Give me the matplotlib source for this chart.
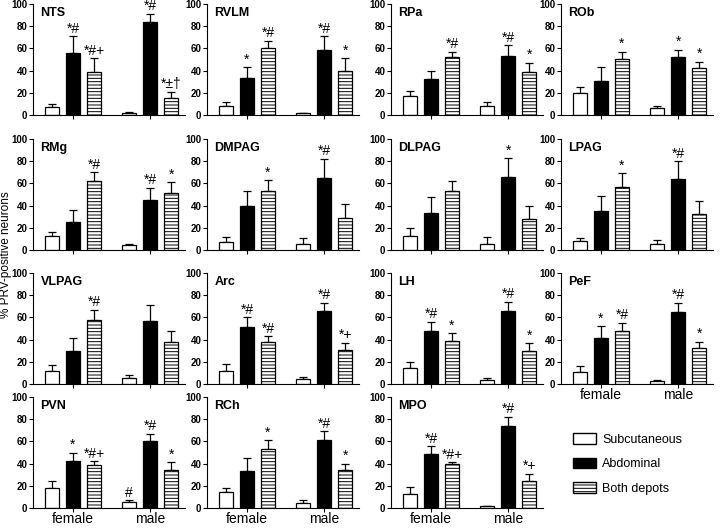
import numpy as np
import matplotlib
matplotlib.use("Agg")
import matplotlib.pyplot as plt
from matplotlib.patches import Patch

plt.rcParams["font.family"] = ["Liberation Sans", "DejaVu Sans"]
plt.rcParams["hatch.linewidth"] = 0.7

# regions, one panel each
regions = ["NTS", "RVLM", "RPa", "ROb", "RMg", "DMPAG", "DLPAG", "LPAG",
           "VLPAG", "Arc", "LH", "PeF", "PVN", "RCh", "MPO"]

# female means / SEM (% PRV-positive neurons)
sub_f = [7, 8, 17, 20, 13, 7, 13, 8, 12, 12, 14, 11, 18, 14, 13]
sub_f_err = [3, 4, 4.5, 5, 3, 5, 7, 3, 5, 6, 6, 5, 6.5, 4, 5.5]
abd_f = [56, 33, 32, 31, 25, 40, 33, 35, 30, 51, 48, 41, 42, 33, 49]
abd_f_err = [15, 10, 8, 12, 11, 13, 15, 14, 11, 9, 8, 11, 8, 12, 6.5]
both_f = [39, 60, 52, 50, 62, 53, 53, 57, 58, 38, 39, 48, 39, 53, 39.5]
both_f_err = [12, 7, 5, 7, 8, 10, 9, 12, 9, 5, 7, 7, 3, 8, 1.5]

# male means / SEM
sub_m = [2, 1.5, 8, 6.5, 4.5, 5.5, 5.5, 5, 5, 4.5, 4, 3, 5.5, 4.5, 1.5]
sub_m_err = [1, 0.5, 4, 2, 1, 5.5, 6, 4, 3.5, 1.5, 1.5, 1, 1.5, 3, 0.5]
abd_m = [84, 59, 53, 52, 45, 65, 66, 64, 57, 66, 66, 65, 60, 61, 74]
abd_m_err = [7, 12, 10, 7, 11, 17, 17, 16, 14, 7, 8, 8, 7, 8, 8]
both_m = [15, 40, 39, 42, 51, 29, 28, 32, 38, 31, 30, 32, 34, 34, 24]
both_m_err = [6, 11, 8, 6, 10, 12, 12, 12, 10, 6, 7, 6, 7, 6, 7]

# significance marks: sub_f, abd_f, both_f, sub_m, abd_m, both_m
marks = [
    ["", "*#", "*#+", "", "*#", "*±†"],
    ["", "*", "*#", "", "*#", "*"],
    ["", "", "*#", "", "*#", "*"],
    ["", "", "*", "", "*", "*"],
    ["", "", "*#", "", "*#", "*"],
    ["", "", "*", "", "*#", ""],
    ["", "", "", "", "*", ""],
    ["", "", "*", "", "*#", ""],
    ["", "", "*#", "", "", ""],
    ["", "*#", "*#", "", "*#", "*+"],
    ["", "*#", "*", "", "*#", "*"],
    ["", "*", "*#", "", "*#", "*"],
    ["", "*", "*#+", "#", "*#", "*"],
    ["", "", "*", "", "*#", "*"],
    ["", "*#", "*#+", "", "*#", "*+"],
]

sexes = ["female", "male"]
series = ["Subcutaneous", "Abdominal", "Both depots"]
bottom_panels = ["PeF", "PVN", "RCh", "MPO"]

xpos = np.array([0, 1, 2, 3.67, 4.67, 5.67])
faces = ["white", "black", "white", "white", "black", "white"]
hatches = [None, None, "-----", None, None, "-----"]

fig = plt.figure(figsize=(7.2, 5.28), dpi=100)

col_left = [33, 207, 391, 561]
row_bottom = [115, 250, 384, 508]
W, H = 152, 111

for i, name in enumerate(regions):
    r, c = divmod(i, 4)
    ax = fig.add_axes([col_left[c] / 720, 1 - row_bottom[r] / 528, W / 720, H / 528])
    vals = [sub_f[i], abd_f[i], both_f[i], sub_m[i], abd_m[i], both_m[i]]
    errs = [sub_f_err[i], abd_f_err[i], both_f_err[i], sub_m_err[i], abd_m_err[i], both_m_err[i]]
    ax.errorbar(xpos, vals, yerr=[np.zeros(6), errs], fmt="none", ecolor="black",
                elinewidth=0.9, capsize=3, capthick=0.9, zorder=1)
    for x, v, fc, h in zip(xpos, vals, faces, hatches):
        ax.bar(x, v, width=0.67, color=fc, edgecolor="black", hatch=h, linewidth=0.9, zorder=2)
    for x, v, e, m in zip(xpos, vals, errs, marks[i]):
        if m:
            ax.text(x, v + e + 0.5, m, ha="center", va="bottom", fontsize=10, clip_on=False)
    ax.set_xlim(-0.9, 6.33)
    ax.set_ylim(0, 100)
    ax.set_yticks([0, 20, 40, 60, 80, 100])
    ax.set_xticks([1, 4.67])
    if name in bottom_panels:
        ax.set_xticklabels(sexes, fontsize=10)
    else:
        ax.set_xticklabels([])
    ax.tick_params(axis="y", labelsize=7, length=3, pad=1, width=0.8)
    ax.tick_params(axis="x", length=3, pad=0, width=0.8)
    for lab in ax.get_yticklabels():
        lab.set_fontweight("bold")
    ax.spines["top"].set_visible(False)
    ax.spines["right"].set_visible(False)
    ax.text(0.05, 0.97, name, transform=ax.transAxes, fontsize=9, fontweight="bold", va="top")

fig.text(0.0085, 0.517, "% PRV-positive neurons", rotation=90, va="center", ha="center", fontsize=8.5)

handles = [Patch(facecolor="white", edgecolor="black"),
           Patch(facecolor="black", edgecolor="black"),
           Patch(facecolor="white", edgecolor="black", hatch="-----")]
fig.legend(handles, series, loc="upper left", bbox_to_anchor=(573 / 720, 1 - 433 / 528),
           frameon=False, fontsize=9, handlelength=1.85, handleheight=0.96,
           labelspacing=0.95, handletextpad=0.5, borderpad=0, borderaxespad=0)

fig.savefig("out.png", dpi=100)
